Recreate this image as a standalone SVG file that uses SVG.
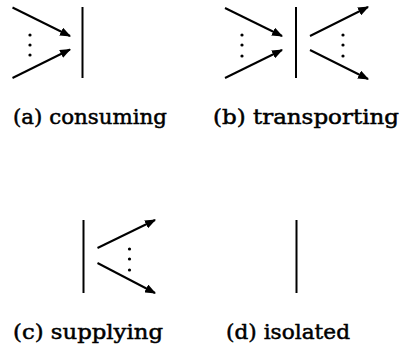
<svg xmlns="http://www.w3.org/2000/svg" width="401" height="352" viewBox="0 0 401 352">
<style>
.ln{stroke:#000;stroke-width:2;fill:none}
.ar{stroke:#000;stroke-width:2;fill:none;marker-end:url(#ah)}
.dot{fill:#000}
.lbl{font-family:"DejaVu Serif","Liberation Serif",serif;font-size:21px;fill:#000;stroke:#000;stroke-width:0.5}
</style>
<defs>
<marker id="ah" viewBox="0 0 10 8" refX="9" refY="4" markerWidth="5.5" markerHeight="4.4" orient="auto" markerUnits="strokeWidth">
<path d="M0,0 L10,4 L0,8 Z" fill="#000"/>
</marker>
</defs>
<rect width="401" height="352" fill="#fff"/>
<g id="consuming">
<line class="ln" x1="82.5" y1="7" x2="82.5" y2="78"/>
<g class="dot"><circle cx="30" cy="35" r="1.6"/><circle cx="30" cy="45" r="1.6"/><circle cx="30" cy="55" r="1.6"/></g>
<text class="lbl" x="13" y="124" textLength="154" lengthAdjust="spacingAndGlyphs">(a) consuming</text>
</g>
<g id="transporting">
<line class="ln" x1="296" y1="7" x2="296" y2="78"/>
<g class="dot"><circle cx="242" cy="35" r="1.6"/><circle cx="242" cy="45" r="1.6"/><circle cx="242" cy="56" r="1.6"/><circle cx="343" cy="35" r="1.6"/><circle cx="343" cy="45" r="1.6"/><circle cx="343" cy="56" r="1.6"/></g>
<text class="lbl" x="213" y="124" textLength="186" lengthAdjust="spacingAndGlyphs">(b) transporting</text>
</g>
<g id="supplying">
<line class="ln" x1="83.5" y1="220" x2="83.5" y2="293"/>
<g class="dot"><circle cx="129.5" cy="249" r="1.6"/><circle cx="129.5" cy="259" r="1.6"/><circle cx="129.5" cy="270" r="1.6"/></g>
<text class="lbl" x="13" y="339" textLength="150" lengthAdjust="spacingAndGlyphs">(c) supplying</text>
</g>
<g id="isolated">
<line class="ln" x1="296.5" y1="220" x2="296.5" y2="293"/>
<text class="lbl" x="226" y="339" textLength="124" lengthAdjust="spacingAndGlyphs">(d) isolated</text>
</g>
<g id="connectors">
<line class="ar" x1="12.5" y1="7.5" x2="70" y2="36"/>
<line class="ar" x1="12.5" y1="78" x2="70" y2="49.5"/>
<line class="ar" x1="225" y1="8" x2="282" y2="36"/>
<line class="ar" x1="225" y1="78" x2="282" y2="50"/>
<line class="ar" x1="310" y1="36" x2="368" y2="7"/>
<line class="ar" x1="310" y1="50" x2="368" y2="79"/>
<line class="ar" x1="97.5" y1="248" x2="155" y2="220"/>
<line class="ar" x1="97.5" y1="263" x2="155" y2="293"/>
</g>
</svg>
